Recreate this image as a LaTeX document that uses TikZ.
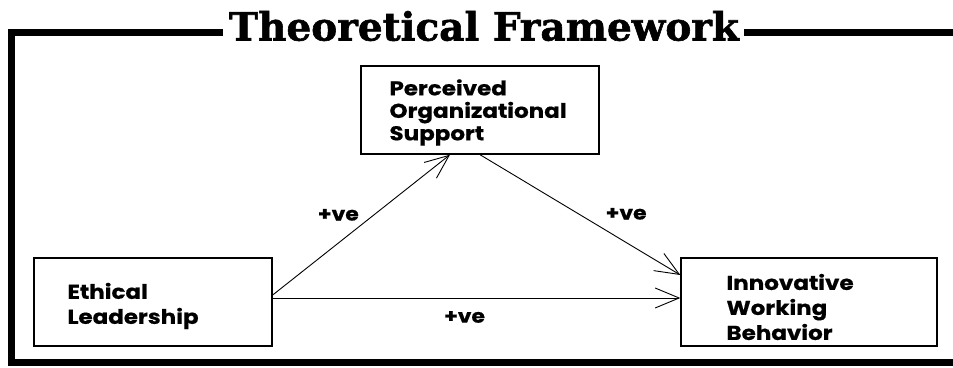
\documentclass[tikz,border=0pt]{standalone}
\usepackage{fontspec}
\newfontfamily\boxfont{Poppins}[FakeStretch=1.15, BoldFeatures={FakeBold=0.6}]
\newfontfamily\titlefont{DejaVu Serif}[BoldFeatures={FakeBold=1.5}]
\usetikzlibrary{arrows.meta, positioning}

\begin{document}
\begin{tikzpicture}[
    x=1pt, y=1pt, >={Straight Barb[length=24pt, width=20pt]},
    frame/.style={line width=7pt, line join=miter},
    var/.style={draw, line width=1.4pt, minimum height=88pt, inner sep=0pt},
    vartext/.style={font=\boxfont\bfseries\fontsize{20}{25}\selectfont,
                    align=left, anchor=west, inner sep=0pt},
    link/.style={->, line width=0.9pt},
    sign/.style={font=\boxfont\bfseries\fontsize{19}{20}\selectfont, inner sep=0pt}
  ]
  \useasboundingbox (0,0) rectangle (953,367);

  % the three variables
  \node[var, minimum width=238pt] (pos) at (480,257) {};
  \node[vartext, font=\boxfont\bfseries\fontsize{20}{22.5}\selectfont] (pos-t)
    at ([xshift=29pt, yshift=-2.5pt]pos.west)
    {Perceived\\Organizational\\Support};
  \node[var, minimum width=238pt] (el) at (153,65) {};
  \node[vartext] (el-t) at ([xshift=34pt, yshift=-4pt]el.west)
    {Ethical\\Leadership};
  \node[var, minimum width=256pt] (iwb) at (809,65) {};
  \node[vartext] (iwb-t) at ([xshift=46pt, yshift=-5pt]iwb.west)
    {Innovative\\Working\\Behavior};

  % paths
  \draw[link] ([yshift=7pt]el.east) --
    node[sign, xshift=-23pt, yshift=10pt] (ve-a) {+ve} ([xshift=-30pt]pos.south);
  \draw[link] (pos.south) --
    node[sign, xshift=46pt, yshift=1pt] (ve-b) {+ve} ([yshift=27pt]iwb.west);
  \draw[link] ([yshift=4pt]el.east) --
    node[sign, xshift=-12pt, yshift=-19pt] (ve-c) {+ve} ([yshift=4pt]iwb.west);

  % frame with title
  \node[font=\titlefont\bfseries\fontsize{39}{42}\selectfont, inner sep=0pt]
    (title) at (484,341) {Theoretical Framework};
  \coordinate (top-l) at (11,334);
  \coordinate (bot-l) at (11,5);
  \coordinate (bot-r) at (953,5);
  \coordinate (top-r) at (953,334);
  \draw[frame] ([xshift=-6pt]title.west |- top-l) -- (top-l) -- (bot-l) -- (bot-r);
  \draw[frame] ([xshift=5pt]title.east |- top-r) -- (top-r);
\end{tikzpicture}
\end{document}
